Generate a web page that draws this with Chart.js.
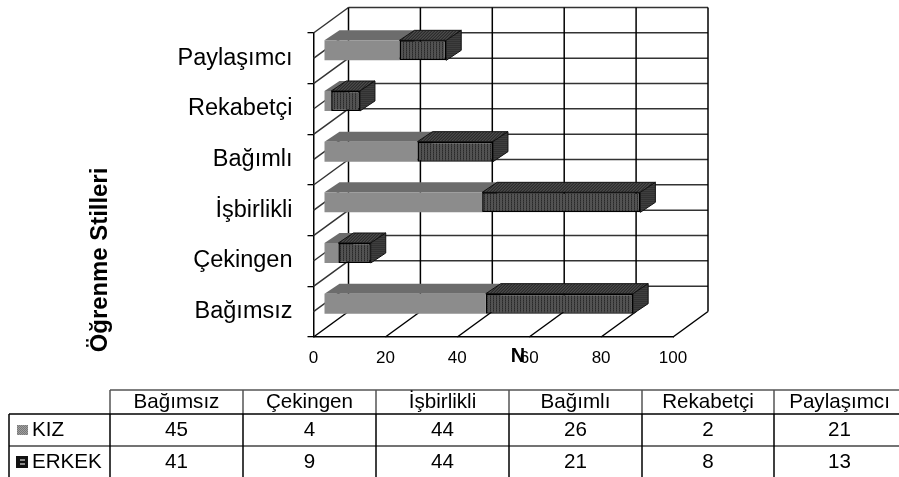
<!DOCTYPE html>
<html>
<head>
<meta charset="utf-8">
<style>
    html, body { margin: 0; padding: 0; background: #fff; overflow: hidden; }
    canvas { display: block; filter: blur(0.4px); }
</style>
<script src="https://cdn.jsdelivr.net/npm/chart.js@4/dist/chart.umd.min.js"></script>
</head>
<body>
<canvas id="chart" width="899" height="477"></canvas>
<script>
const categories = ["Bağımsız", "Çekingen", "İşbirlikli", "Bağımlı", "Rekabetçi", "Paylaşımcı"];
const kiz = [45, 4, 44, 26, 2, 21];
const erkek = [41, 9, 44, 21, 8, 13];
const xTickStep = 20;
const xMax = 100;

const FONT = '"Liberation Sans", Arial, sans-serif';

// 3D look: how far the back wall and the bars are pushed
const WALL = { dx: 35, dy: -25.5 };
const BAR_SHIFT = { dx: 10.5, dy: -8 };
const BAR_DEPTH = { dx: 15, dy: -10 };

// Small repeating tiles, the dithered fills of the original
function tile(w, h, rows) {
    const c = document.createElement("canvas");
    c.width = w;
    c.height = h;
    const t = c.getContext("2d");
    rows.forEach((row, j) => row.forEach((col, i) => {
        t.fillStyle = col;
        t.fillRect(i, j, 1, 1);
    }));
    return t.createPattern(c, "repeat");
}

const fills = {
    kizFront: tile(2, 2, [["#787878", "#a0a0a0"], ["#a0a0a0", "#787878"]]),
    kizTop: tile(2, 2, [["#5e5e5e", "#7a7a7a"], ["#7a7a7a", "#5e5e5e"]]),
    erkekFront: tile(3, 2, [["#262626", "#808080", "#2c2c2c"], ["#3a3a3a", "#686868", "#3a3a3a"]]),
    erkekTop: tile(3, 3, [["#1e1e1e", "#3a3a3a", "#5a5a5a"], ["#3a3a3a", "#5a5a5a", "#1e1e1e"], ["#5a5a5a", "#1e1e1e", "#3a3a3a"]]),
    erkekSide: tile(2, 2, [["#1c1c1c", "#606060"], ["#1c1c1c", "#484848"]]),
};

function line(ctx, x1, y1, x2, y2) {
    ctx.beginPath();
    ctx.moveTo(x1, y1);
    ctx.lineTo(x2, y2);
    ctx.stroke();
}

function poly(ctx, pts, fill, stroke) {
    ctx.beginPath();
    pts.forEach((p, i) => (i ? ctx.lineTo(p[0], p[1]) : ctx.moveTo(p[0], p[1])));
    ctx.closePath();
    ctx.fillStyle = fill;
    ctx.fill();
    if (stroke) {
        ctx.strokeStyle = stroke;
        ctx.lineWidth = 1;
        ctx.stroke();
    }
}

// Back wall, side wall and floor, worked out from the two scales
const wallsPlugin = {
    id: "walls",
    beforeDatasetsDraw(chart) {
        const { ctx, scales: { x, y } } = chart;
        const half = (y.bottom - y.top) / (2 * categories.length);
        ctx.save();
        ctx.strokeStyle = "#333";
        ctx.lineWidth = 1.5;
        for (let k = 0; k < 2 * categories.length; k++) {
            const yy = y.top + k * half;
            line(ctx, x.left, yy, x.left + WALL.dx, yy + WALL.dy);
            line(ctx, x.left + WALL.dx, yy + WALL.dy, x.right + WALL.dx, yy + WALL.dy);
        }
        ctx.strokeStyle = "#000";
        x.ticks.forEach((t) => {
            const px = x.getPixelForValue(t.value);
            line(ctx, px, y.bottom, px + WALL.dx, y.bottom + WALL.dy);
            line(ctx, px + WALL.dx, y.top + WALL.dy, px + WALL.dx, y.bottom + WALL.dy);
        });
        ctx.restore();
    },
};

// Bars go back to front: KIZ first so ERKEK's edge stays on top
const barsPlugin = {
    id: "bars3d",
    beforeDatasetDraw() {
        return false;
    },
    afterDatasetsDraw(chart) {
        const { ctx } = chart;
        const d = BAR_DEPTH;
        ctx.save();
        ctx.translate(BAR_SHIFT.dx, BAR_SHIFT.dy);
        chart.data.datasets.forEach((ds, i) => {
            chart.getDatasetMeta(i).data.forEach((el) => {
                const { x: end, y: mid, base, height } = el.getProps(["x", "y", "base", "height"]);
                const top = mid - height / 2;
                const bot = mid + height / 2;
                poly(ctx, [[base, top], [base + d.dx, top + d.dy], [end + d.dx, top + d.dy], [end, top]], ds.topFill, ds.edge);
                poly(ctx, [[end, top], [end + d.dx, top + d.dy], [end + d.dx, bot + d.dy], [end, bot]], ds.sideFill, ds.edge);
                el.draw(ctx);
            });
        });
        ctx.restore();
    },
};

// Rotated axis title, the N that sits on the 60 label, and the data table
const textPlugin = {
    id: "textAndTable",
    afterDraw(chart) {
        const { ctx } = chart;
        ctx.save();
        ctx.fillStyle = "#000";
        ctx.textBaseline = "middle";

        ctx.font = "bold 20px " + FONT;
        ctx.textAlign = "center";
        ctx.fillText("N", 518, 356);
        ctx.font = "bold 23.9px " + FONT;
        ctx.translate(100, 260);
        ctx.rotate(-Math.PI / 2);
        ctx.fillText("Öğrenme Stilleri", 0, 0);
        ctx.setTransform(1, 0, 0, 1, 0, 0);

        const colX = [110, 243, 376, 509, 642, 774, 905];
        const rowY = [390, 414, 446, 477];
        const left = 9;

        ctx.lineWidth = 1.5;
        ctx.strokeStyle = "#555";
        line(ctx, colX[0], rowY[0], 899, rowY[0]);
        colX.slice(0, 6).forEach((cx) => line(ctx, cx, rowY[0], cx, rowY[1]));
        ctx.strokeStyle = "#000";
        line(ctx, left, rowY[1], 899, rowY[1]);
        ctx.strokeStyle = "#444";
        line(ctx, left, rowY[2], 899, rowY[2]);
        ctx.strokeStyle = "#000";
        line(ctx, left, rowY[1], left, rowY[3]);
        colX.slice(0, 6).forEach((cx) => line(ctx, cx, rowY[1], cx, rowY[3]));

        ctx.font = "20.6px " + FONT;
        categories.forEach((c, i) => {
            const cx = (colX[i] + colX[i + 1]) / 2;
            ctx.fillText(c, cx, 402.5);
            ctx.fillText(String(kiz[i]), cx, 430);
            ctx.fillText(String(erkek[i]), cx, 462);
        });

        ctx.textAlign = "left";
        ctx.fillText("KIZ", 32, 430);
        ctx.fillText("ERKEK", 32, 462);

        ctx.fillStyle = fills.kizFront;
        ctx.fillRect(17, 425, 11, 10);
        ctx.fillStyle = "#111";
        ctx.fillRect(16, 456, 12, 12);
        ctx.fillStyle = "#8a8a8a";
        ctx.fillRect(20, 459, 5, 2);
        ctx.fillRect(20, 463, 5, 2);
        ctx.restore();
    },
};

new Chart(document.getElementById("chart"), {
    type: "bar",
    data: {
        labels: categories,
        datasets: [
            {
                label: "KIZ",
                data: kiz,
                backgroundColor: fills.kizFront,
                borderWidth: 0,
                topFill: fills.kizTop,
                sideFill: fills.kizTop,
                edge: null,
            },
            {
                label: "ERKEK",
                data: erkek,
                backgroundColor: fills.erkekFront,
                borderColor: "#000",
                borderWidth: 1.5,
                borderSkipped: false,
                topFill: fills.erkekTop,
                sideFill: fills.erkekSide,
                edge: "#111",
            },
        ],
    },
    options: {
        indexAxis: "y",
        responsive: false,
        animation: false,
        layout: {
            autoPadding: false,
            padding: { left: 0, top: 33, right: 226, bottom: 0 },
        },
        datasets: { bar: { categoryPercentage: 1, barPercentage: 0.395 } },
        scales: {
            x: {
                stacked: true,
                min: 0,
                max: xMax,
                afterFit: (scale) => { scale.height = 140; },
                border: { display: true, color: "#000", width: 1.5 },
                grid: { drawOnChartArea: false, drawTicks: false },
                ticks: {
                    stepSize: xTickStep,
                    maxRotation: 0,
                    padding: 11,
                    color: "#000",
                    font: { family: FONT, size: 17 },
                },
            },
            y: {
                stacked: true,
                reverse: true,
                afterFit: (scale) => { scale.width = 313.5; },
                border: { display: true, color: "#000", width: 1.5 },
                grid: { drawOnChartArea: false, drawTicks: true, tickLength: 6, color: "#000", lineWidth: 1.3 },
                ticks: {
                    padding: 15,
                    color: "#000",
                    font: { family: FONT, size: 23.5 },
                },
            },
        },
        plugins: {
            legend: { display: false },
            tooltip: { enabled: false },
        },
    },
    plugins: [wallsPlugin, barsPlugin, textPlugin],
});
</script>
</body>
</html>
